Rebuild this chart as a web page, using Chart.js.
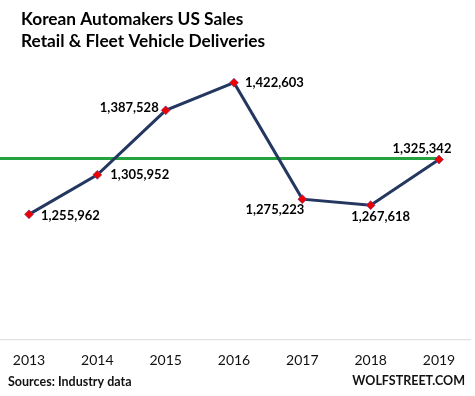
<!DOCTYPE html>
<html>
<head>
<meta charset="utf-8">
<script src="https://cdn.jsdelivr.net/npm/chart.js@4"></script>
<style>
  html, body { margin: 0; padding: 0; background: #fff; }
  #wrap { width: 475px; height: 396px; position: relative; }
</style>
</head>
<body>
<div id="wrap"><canvas id="salesChart"></canvas></div>
<script>
const anos = ['2013', '2014', '2015', '2016', '2017', '2018', '2019'];
const vendas = [1255962, 1305952, 1387528, 1422603, 1275223, 1267618, 1325342];
const nivelAtual = 1326500;
const titulo = ['Korean Automakers US Sales', 'Retail & Fleet Vehicle Deliveries'];
const fonte = 'Sources: Industry data';
const marca = 'WOLFSTREET.COM';

const fam = 'Lato, "Open Sans", sans-serif';

// where each value label sits relative to its point
const posRotulos = [
  { align: 'left', dx: 12, dy: 1 },
  { align: 'left', dx: 13, dy: 0 },
  { align: 'right', dx: -7, dy: -3 },
  { align: 'left', dx: 11, dy: 0 },
  { align: 'right', dx: 2, dy: 11 },
  { align: 'center', dx: 10, dy: 12 },
  { align: 'center', dx: -17, dy: -11 }
];

const extras = {
  id: 'extras',
  beforeDatasetsDraw(chart) {
    const { ctx, chartArea, scales } = chart;
    ctx.save();
    // eixo cinza
    ctx.strokeStyle = '#d9d9d9';
    ctx.lineWidth = 1;
    ctx.beginPath();
    ctx.moveTo(0, chartArea.bottom + 0.5);
    ctx.lineTo(chart.width - 4, chartArea.bottom + 0.5);
    ctx.stroke();
    // linha verde no nivel atual
    const yv = scales.y.getPixelForValue(nivelAtual);
    const xf = scales.x.getPixelForValue(anos.length - 1);
    ctx.strokeStyle = '#22a33e';
    ctx.lineWidth = 3;
    ctx.beginPath();
    ctx.moveTo(0, yv);
    ctx.lineTo(xf, yv);
    ctx.stroke();
    ctx.restore();
  },
  afterDraw(chart) {
    const { ctx } = chart;
    ctx.save();
    ctx.fillStyle = '#000';
    ctx.textBaseline = 'alphabetic';
    ctx.font = 'bold 17.3px ' + fam;
    ctx.textAlign = 'left';
    ctx.fillText(titulo[0], 21, 25);
    ctx.fillText(titulo[1], 21, 47);

    ctx.font = 'bold 12.5px ' + fam;
    ctx.fillStyle = '#111';
    ctx.fillText(fonte, 8, 386);
    ctx.textAlign = 'right';
    ctx.fillText(marca, 465, 385);

    // rotulos dos valores
    const meta = chart.getDatasetMeta(0);
    ctx.font = 'bold 13px ' + fam;
    ctx.fillStyle = '#000';
    ctx.textBaseline = 'middle';
    meta.data.forEach((pt, i) => {
      const p = posRotulos[i];
      ctx.textAlign = p.align;
      ctx.fillText(vendas[i].toLocaleString('en-US'), pt.x + p.dx, pt.y + p.dy);
    });
    ctx.restore();
  }
};

new Chart(document.getElementById('salesChart'), {
  type: 'line',
  data: {
    labels: anos,
    datasets: [{
      data: vendas,
      borderColor: '#243760',
      borderWidth: 3,
      tension: 0,
      pointStyle: 'rectRot',
      pointRadius: 4.5,
      pointBackgroundColor: '#ee0000',
      pointBorderColor: '#5a4a9a',
      pointBorderWidth: 0.6
    }]
  },
  options: {
    responsive: true,
    maintainAspectRatio: false,
    animation: false,
    layout: { padding: { top: 61, left: 29, right: 36, bottom: 22 } },
    plugins: {
      legend: { display: false },
      tooltip: { enabled: false }
    },
    scales: {
      x: {
        offset: false,
        grid: { display: false },
        border: { display: false },
        ticks: { color: '#111', font: { family: fam, size: 14 }, padding: 5, maxRotation: 0 }
      },
      y: {
        display: false,
        min: 1098000,
        max: 1450000
      }
    }
  },
  plugins: [extras]
});
</script>
</body>
</html>
